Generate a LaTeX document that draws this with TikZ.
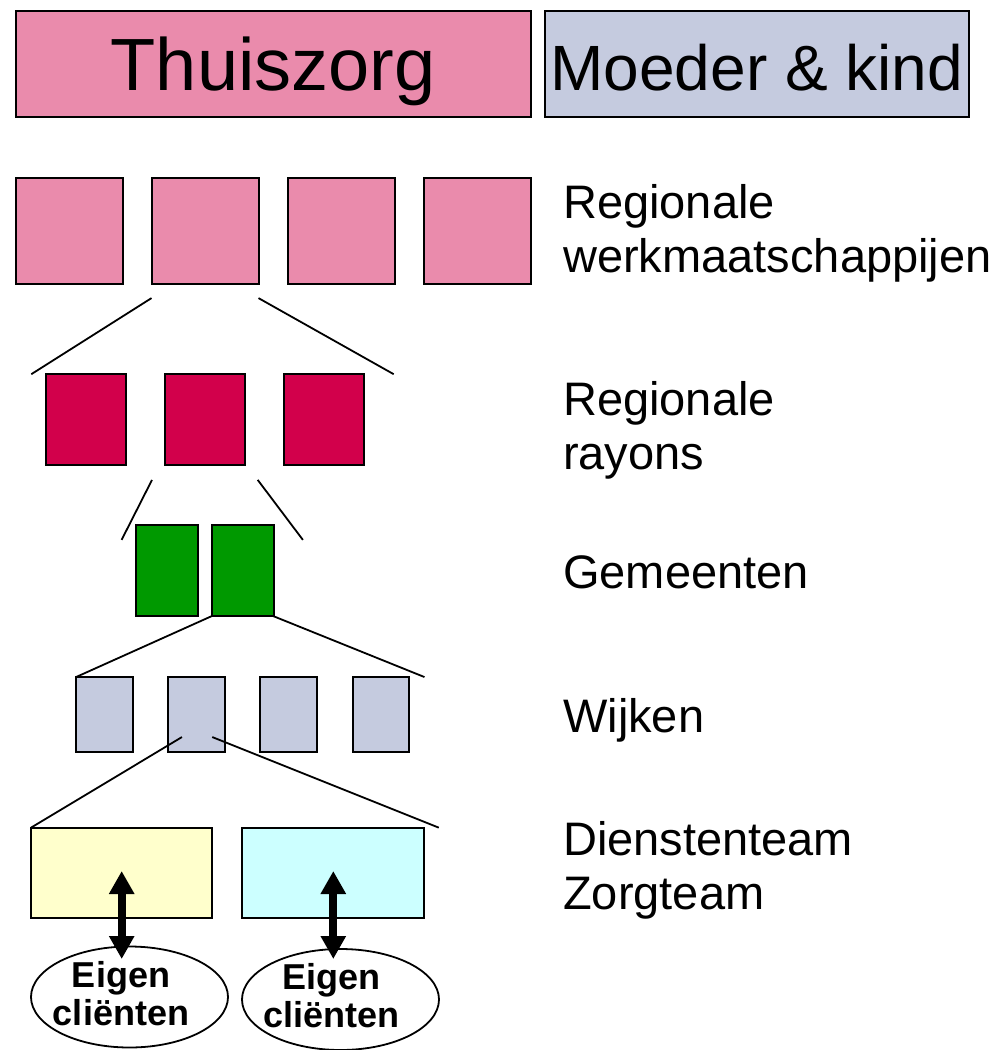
\documentclass[tikz,border=0pt]{standalone}
\usepackage{fontspec}
\setmainfont{Liberation Sans}
\usetikzlibrary{arrows.meta}
\usetikzlibrary{shapes.geometric}
\definecolor{roze}{RGB}{234,139,172}
\definecolor{blauwgrijs}{RGB}{197,203,223}
\definecolor{rood}{RGB}{210,0,75}
\definecolor{groen}{RGB}{0,153,0}
\definecolor{geel}{RGB}{255,255,204}
\definecolor{cyaan}{RGB}{204,255,255}

\begin{document}
\begin{tikzpicture}[x=1pt, y=-1pt,
        blok/.style={draw=black, line width=2pt, inner sep=0pt, outer sep=0pt},
        lijn/.style={line width=1.8pt},
        niveau/.style={anchor=north west, inner sep=0pt, align=left, font=\fontsize{47}{54}\selectfont},
        pijl/.style={line width=8pt, {Triangle[length=23pt,width=24pt]}-{Triangle[length=23pt,width=24pt]}},
        klant/.style={draw=black, line width=1.8pt, ellipse, inner sep=0pt, minimum width=197pt, minimum height=101pt},
        klanttekst/.style={align=center, inner sep=0pt, font=\fontsize{36}{38}\selectfont\bfseries}]
        \useasboundingbox (0,0) rectangle (1007,1050);

        \node[blok, fill=roze, minimum width=515pt, minimum height=106pt, text height=53pt, text depth=0pt,
            font=\fontsize{74}{80}\selectfont] (thuis) at (273.1,63.9) {Thuiszorg};
        \node[blok, fill=blauwgrijs, minimum width=424pt, minimum height=106pt, text height=53pt, text depth=0pt,
            font=\fontsize{64}{70}\selectfont] (moeder) at (756.7,63.9) {Moeder \& kind};

        \foreach \i/\x in {1/69,2/205,3/341,4/477}
            \node[blok, fill=roze, minimum width=107pt, minimum height=106pt] (wm\i) at (\x,230.5) {};
        \foreach \i/\x in {1/86,2/205,3/324}
            \node[blok, fill=rood, minimum width=80pt, minimum height=91pt] (ray\i) at (\x,419.7) {};
        \foreach \i/\x in {1/167.2,2/242.5}
            \node[blok, fill=groen, minimum width=62pt, minimum height=91pt] (gem\i) at (\x,570.7) {};
        \foreach \i/\x in {1/104.3,2/196.7,3/288.7,4/381.2}
            \node[blok, fill=blauwgrijs, minimum width=56.5pt, minimum height=75.3pt] (wijk\i) at (\x,714.7) {};
        \node[blok, fill=geel, minimum width=181.3pt, minimum height=90.7pt] (dienst) at (121.7,873) {};
        \node[blok, fill=cyaan, minimum width=182pt, minimum height=90.7pt] (zorg) at (333.3,873) {};

        \draw[lijn] ([yshift=-14.6pt]wm2.south west) -- ([xshift=-14.7pt]ray1.north west);
        \draw[lijn] ([yshift=-14.6pt]wm2.south east) -- ([xshift=29.7pt]ray3.north east);
        \draw[lijn] ([xshift=-13pt,yshift=-14.7pt]ray2.south west) -- ([xshift=-14.6pt,yshift=-14.7pt]gem1.north west);
        \draw[lijn] ([xshift=12.7pt,yshift=-14.7pt]ray2.south east) -- ([xshift=29.4pt,yshift=-14.7pt]gem2.north east);
        \draw[lijn] (gem2.south west) -- (wijk1.north west);
        \draw[lijn] (gem2.south east) -- ([xshift=15pt]wijk4.north east);
        \draw[lijn] ([xshift=13.5pt,yshift=15.3pt]wijk2.south west) -- (dienst.north west);
        \draw[lijn] ([xshift=-12.7pt,yshift=15.3pt]wijk2.south east) -- ([xshift=14.5pt]zorg.north east);

        \node[klant] (klant1) at (129.5,997) {};
        \node[klant] (klant2) at (340.5,999.5) {};
        \node[klanttekst] (eigen1) at ([xshift=-8.5pt,yshift=3pt]klant1.center) {Eigen\\cliënten};
        \node[klanttekst] (eigen2) at ([xshift=-9pt,yshift=3.5pt]klant2.center) {Eigen\\cliënten};
        \draw[pijl] ([yshift=2pt]dienst.center) -- ++(0,88);
        \draw[pijl] ([yshift=2pt]zorg.center) -- ++(0,88);

        \node[niveau] (lbwm) at (563,184.3) {Regionale\\werkmaatschappijen};
        \node[niveau] (lbray) at (563,381.3) {Regionale\\rayons};
        \node[niveau] (lbgem) at (563,555.2) {Gemeenten};
        \node[niveau] (lbwijk) at (563,698) {Wijken};
        \node[niveau] (lbteam) at (563,821.3) {Dienstenteam\\Zorgteam};
\end{tikzpicture}
\end{document}
